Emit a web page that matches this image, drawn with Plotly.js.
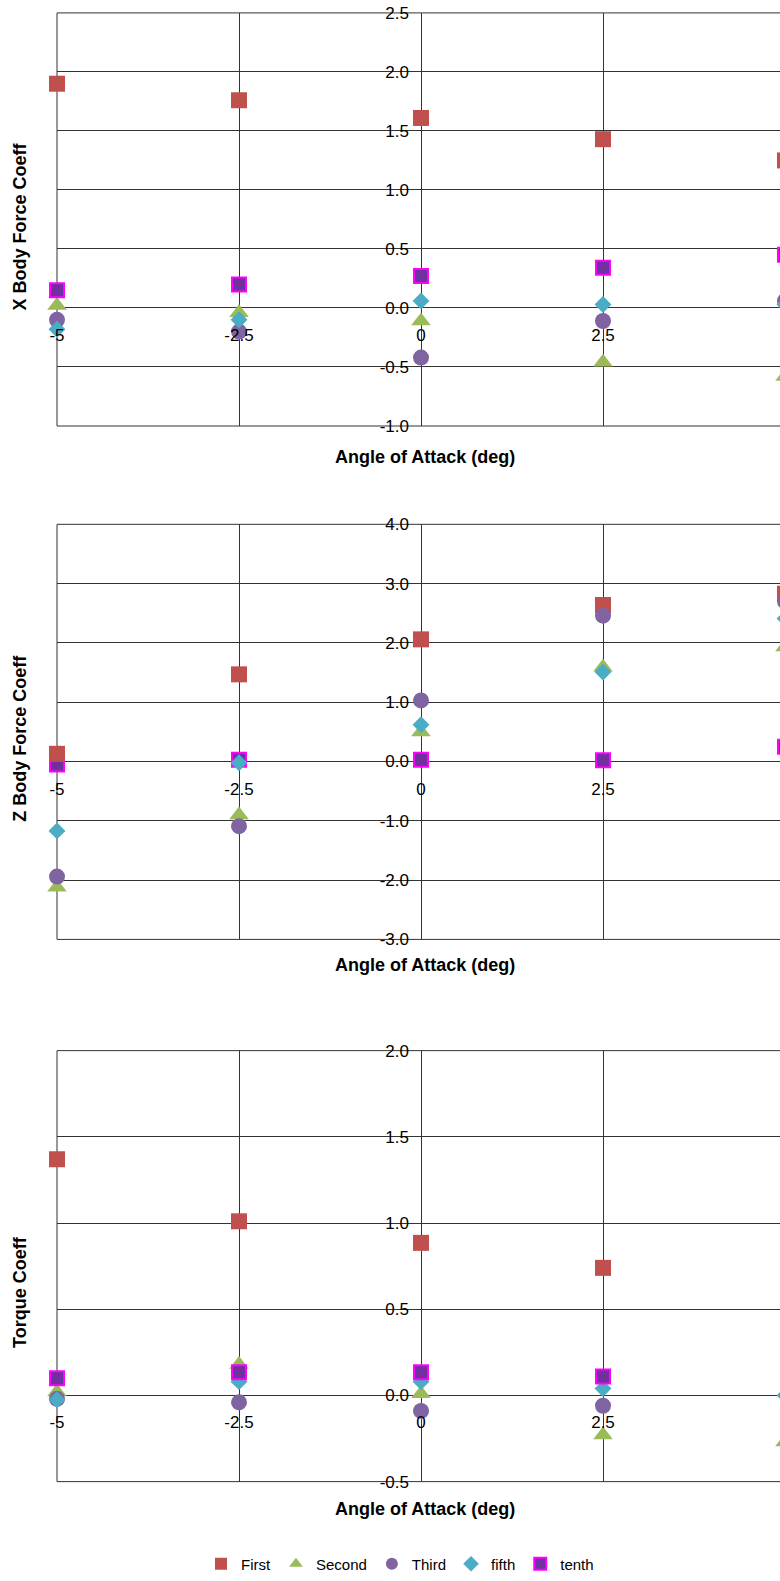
<!DOCTYPE html>
<html><head><meta charset="utf-8">
<script src="https://cdn.plot.ly/plotly-3.0.1.min.js"></script>
<style>html,body{margin:0;padding:0;background:#fff;overflow:hidden;width:780px;height:1581px}</style>
</head><body><div id="chart" style="width:800px;height:1581px"></div>
<script>
// ---- data ----
const angles = [-5, -2.5, 0, 2.5, 5];
const seriesNames = ['First', 'Second', 'Third', 'fifth', 'tenth'];

// X Body Force Coeff
const xFirst  = [1.90, 1.76, 1.61, 1.43, 1.25];
const xSecond = [0.02, -0.04, -0.11, -0.46, -0.58];
const xThird  = [-0.10, -0.20, -0.42, -0.11, 0.06];
const xFifth  = [-0.18, -0.10, 0.06, 0.03, 0.03];
const xTenth  = [0.15, 0.20, 0.27, 0.34, 0.45];

// Z Body Force Coeff
const zFirst  = [0.13, 1.47, 2.06, 2.64, 2.83];
const zSecond = [-2.12, -0.90, 0.50, 1.59, 1.93];
const zThird  = [-1.94, -1.09, 1.03, 2.46, 2.70];
const zFifth  = [-1.17, -0.02, 0.62, 1.51, 2.41];
const zTenth  = [-0.05, 0.03, 0.03, 0.02, 0.25];

// Torque Coeff
const tFirst  = [1.37, 1.01, 0.885, 0.74, null];
const tSecond = [0.02, 0.18, 0.01, -0.23, -0.27];
const tThird  = [-0.02, -0.04, -0.09, -0.06, null];
const tFifth  = [-0.025, 0.08, 0.08, 0.04, 0.0];
const tTenth  = [0.10, 0.135, 0.135, 0.11, null];

// tick labels (the "5" tick falls past the right edge of the picture)
const angleTicks = [-5, -2.5, 0, 2.5];
const angleTickText = ['-5', '-2.5', '0', '2.5'];
const xCoeffTicks = [-1, -0.5, 0, 0.5, 1, 1.5, 2, 2.5];
const xCoeffTickText = ['-1.0', '-0.5', '0.0', '0.5', '1.0', '1.5', '2.0', '2.5'];
const zCoeffTicks = [-3, -2, -1, 0, 1, 2, 3, 4];
const zCoeffTickText = ['-3.0', '-2.0', '-1.0', '0.0', '1.0', '2.0', '3.0', '4.0'];
const tCoeffTicks = [-0.5, 0, 0.5, 1, 1.5, 2];
const tCoeffTickText = ['-0.5', '0.0', '0.5', '1.0', '1.5', '2.0'];

const yTitles = ['X Body Force Coeff', 'Z Body Force Coeff', 'Torque Coeff'];
const xTitle = 'Angle of Attack (deg)';

// ---- styles ----
const H = 1581, W = 800, ML = 57, MR = 5;
const FONT = 'Liberation Sans, Arial, sans-serif';
const GRID = '#333333';
const plotW = W - ML - MR;           // 738 px
const PX_PER_UNIT = 72.8;
const XMAX = -5 + plotW / PX_PER_UNIT;
const styles = {
  First:  {symbol: 'square', size: 16, color: '#C0504D', line: {width: 0}},
  Second: {symbol: 'triangle-up', size: 17, color: '#9BBB59', line: {width: 0}},
  Third:  {symbol: 'circle', size: 16, color: '#8064A2', line: {width: 0}},
  fifth:  {symbol: 'diamond', size: 13, color: '#4BACC6', line: {width: 0}},
  tenth:  {symbol: 'square', size: 14, color: '#7030A0', line: {width: 2, color: '#FF00FF'}}
};
const rank = {First: 1, Second: 2, Third: 3, fifth: 4, tenth: 5};

const panels = [
  {vals: {First: xFirst, Second: xSecond, Third: xThird, fifth: xFifth, tenth: xTenth},
   range: [-1, 2.5], ticks: xCoeffTicks, tickText: xCoeffTickText, top: 13, bottom: 429, xt: 460, yt: 228,
   order: ['Second', 'Third', 'fifth', 'tenth', 'First']},
  {vals: {First: zFirst, Second: zSecond, Third: zThird, fifth: zFifth, tenth: zTenth},
   range: [-3, 4], ticks: zCoeffTicks, tickText: zCoeffTickText, top: 528, bottom: 946, xt: 972, yt: 744,
   order: ['Second', 'tenth', 'First', 'Third', 'fifth']},
  {vals: {First: tFirst, Second: tSecond, Third: tThird, fifth: tFifth, tenth: tTenth},
   range: [-0.5, 2], ticks: tCoeffTicks, tickText: tCoeffTickText, top: 1058, bottom: 1492, xt: 1520, yt: 1301,
   order: ['Second', 'Third', 'fifth', 'tenth', 'First']}
];

const traces = [];
const layout = {
  width: W, height: H,
  margin: {l: ML, r: MR, t: 0, b: 0},
  paper_bgcolor: '#fff', plot_bgcolor: '#fff',
  showlegend: true,
  legend: {orientation: 'h', x: (400 - ML) / plotW, xanchor: 'center',
           y: 1 - 1575 / H, yanchor: 'middle', font: {family: FONT, size: 15, color: '#000'},
           itemsizing: 'constant', traceorder: 'normal', itemwidth: 30},
  annotations: [],
  shapes: [],
  font: {family: FONT, color: '#000'}
};
const yZeroXFrac = (0 - (-5)) / (XMAX + 5);
const tickFont = {family: FONT, size: 17, color: '#000'};
const titleFont = {family: FONT, size: 18, color: '#000', weight: 'bold'};

panels.forEach((p, i) => {
  const n = i === 0 ? '' : String(i + 1);
  const d0 = 1 - p.bottom / H, d1 = 1 - p.top / H;
  const zeroPos = d0 + (0 - p.range[0]) / (p.range[1] - p.range[0]) * (d1 - d0);
  layout['xaxis' + n] = {
    range: [-5, XMAX], tickmode: 'array', tickvals: angleTicks, ticktext: angleTickText,
    domain: [0, 1], anchor: 'free', position: zeroPos,
    showgrid: true, gridcolor: GRID, gridwidth: 1, zeroline: false, showline: false,
    ticks: '', ticklabelstandoff: 15, automargin: false, fixedrange: true, tickfont: tickFont
  };
  layout['yaxis' + n] = {
    range: p.range, tickmode: 'array', tickvals: p.ticks, ticktext: p.tickText,
    domain: [d0, d1], anchor: 'free', position: yZeroXFrac,
    showgrid: true, gridcolor: GRID, gridwidth: 1, zeroline: false, showline: false,
    ticks: '', ticklabelstandoff: 12, automargin: false, fixedrange: true, tickfont: tickFont
  };
  const xr = 'x' + n + ' domain', yr = 'y' + n + ' domain';
  const ln = {color: GRID, width: 1};
  layout.shapes.push(
    {type: 'line', xref: xr, yref: yr, x0: 0, x1: 0, y0: 0, y1: 1, line: ln, layer: 'below'},
    {type: 'line', xref: xr, yref: yr, x0: 0, x1: 1, y0: 1, y1: 1, line: ln, layer: 'below'},
    {type: 'line', xref: xr, yref: yr, x0: 0, x1: 1, y0: 0, y1: 0, line: ln, layer: 'below'}
  );
  p.order.forEach(name => {
    const s = styles[name];
    traces.push({
      type: 'scatter', mode: 'markers', x: angles, y: p.vals[name],
      xaxis: 'x' + n, yaxis: 'y' + n, name: name,
      legendgroup: name, showlegend: i === 0, legendrank: rank[name],
      cliponaxis: false, hoverinfo: 'skip',
      marker: {symbol: s.symbol, size: s.size, color: s.color, line: s.line, opacity: 1}
    });
  });
  layout.annotations.push({
    text: xTitle, xref: 'paper', yref: 'paper', x: (425 - ML) / plotW, y: 1 - p.xt / H,
    xanchor: 'center', yanchor: 'middle', showarrow: false, font: titleFont
  });
  layout.annotations.push({
    text: yTitles[i], xref: 'paper', yref: 'paper', x: (20 - ML) / plotW, y: 1 - p.yt / H,
    xanchor: 'center', yanchor: 'middle', showarrow: false, textangle: -90, font: titleFont
  });
});

Plotly.newPlot('chart', traces, layout, {staticPlot: true, displayModeBar: false});
</script></body></html>
